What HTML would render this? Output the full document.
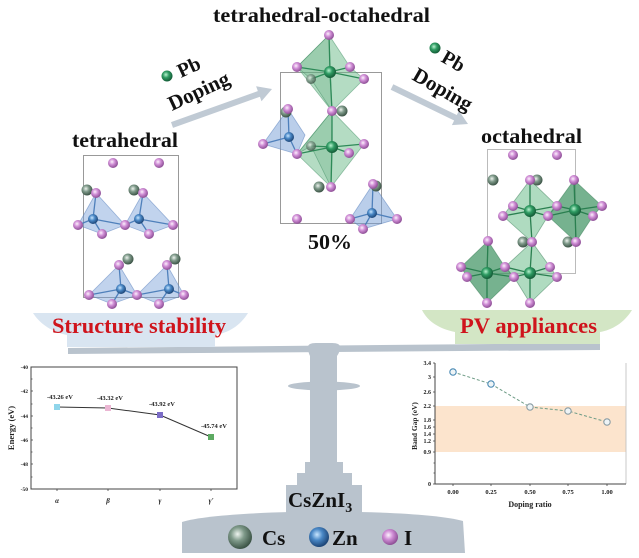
<!DOCTYPE html>
<html><head><meta charset="utf-8">
<style>html,body{margin:0;padding:0;background:#fff}svg{display:block}</style></head>
<body>
<svg width="639" height="558" viewBox="0 0 639 558" xmlns="http://www.w3.org/2000/svg" font-family="'Liberation Serif', serif">
<defs>
<radialGradient id="gI" cx="0.4" cy="0.38" r="0.62"><stop offset="0" stop-color="#fdf2fd"/><stop offset="0.45" stop-color="#d08ed6"/><stop offset="1" stop-color="#8e4f96"/></radialGradient>
<radialGradient id="gCs" cx="0.4" cy="0.38" r="0.62"><stop offset="0" stop-color="#eef4ef"/><stop offset="0.45" stop-color="#7f9a8a"/><stop offset="1" stop-color="#3c5446"/></radialGradient>
<radialGradient id="gZn" cx="0.4" cy="0.38" r="0.62"><stop offset="0" stop-color="#c8e6ff"/><stop offset="0.45" stop-color="#4a88c6"/><stop offset="1" stop-color="#1d4678"/></radialGradient>
<radialGradient id="gPb" cx="0.4" cy="0.38" r="0.62"><stop offset="0" stop-color="#b8f2cf"/><stop offset="0.45" stop-color="#2f9c63"/><stop offset="1" stop-color="#145c37"/></radialGradient>
</defs>
<rect width="639" height="558" fill="#fff"/>

<!-- Titles -->
<g font-weight="bold" fill="#111" font-size="21">
<text x="213" y="22" textLength="217" lengthAdjust="spacingAndGlyphs">tetrahedral-octahedral</text>
<text x="72" y="147" textLength="106" lengthAdjust="spacingAndGlyphs">tetrahedral</text>
<text x="481" y="143" textLength="101" lengthAdjust="spacingAndGlyphs">octahedral</text>
<text x="308" y="249" textLength="44" lengthAdjust="spacingAndGlyphs">50%</text>
</g>

<!-- Arrows -->
<g fill="#c0cad4" stroke="none">
<line x1="172" y1="125" x2="260" y2="93.5" stroke="#c0cad4" stroke-width="6"/>
<polygon points="272,89 261.5,101.3 256.1,86.3"/>
<line x1="392" y1="87" x2="456" y2="118" stroke="#c0cad4" stroke-width="6"/>
<polygon points="468,124 451.9,125.1 458.9,110.7"/>
</g>
<circle cx="167" cy="76" r="5.5" fill="url(#gPb)"/>
<circle cx="435" cy="48" r="5.5" fill="url(#gPb)"/>
<g font-weight="bold" fill="#111">
<text transform="translate(181,78) rotate(-25)" font-size="20">Pb</text>
<text transform="translate(172,111) rotate(-25)" font-size="21">Doping</text>
<text transform="translate(440,61) rotate(30)" font-size="20">Pb</text>
<text transform="translate(411,79) rotate(30)" font-size="21">Doping</text>
</g>

<!-- Left structure (tetrahedral) -->
<rect x="83.5" y="155.5" width="95" height="142" fill="none" stroke="#999" stroke-width="1"/>
<g fill="rgba(118,158,214,0.45)" stroke="rgba(90,130,190,0.55)" stroke-width="0.8">
<polygon points="96,193 78,225 102,234 125,225"/>
<polygon points="143,193 125,225 149,234 173,225"/>
<polygon points="119,265 89,295 112,304 137,295"/>
<polygon points="167,265 137,295 159,304 184,295"/>
</g>
<g stroke="#4f80bb" stroke-width="1.3">
<path d="M93,219 L96,193 M93,219 L78,225 M93,219 L102,234 M93,219 L125,225"/>
<path d="M139,219 L143,193 M139,219 L125,225 M139,219 L149,234 M139,219 L173,225"/>
<path d="M121,289 L119,265 M121,289 L89,295 M121,289 L112,304 M121,289 L137,295"/>
<path d="M169,289 L167,265 M169,289 L137,295 M169,289 L159,304 M169,289 L184,295"/>
</g>
<g>
<circle cx="87" cy="190" r="5.5" fill="url(#gCs)"/><circle cx="134" cy="190" r="5.5" fill="url(#gCs)"/>
<circle cx="128" cy="259" r="5.5" fill="url(#gCs)"/><circle cx="175" cy="259" r="5.5" fill="url(#gCs)"/>
<circle cx="93" cy="219" r="5" fill="url(#gZn)"/><circle cx="139" cy="219" r="5" fill="url(#gZn)"/>
<circle cx="121" cy="289" r="5" fill="url(#gZn)"/><circle cx="169" cy="289" r="5" fill="url(#gZn)"/>
</g>
<g fill="url(#gI)">
<circle cx="113" cy="163" r="5"/><circle cx="159" cy="163" r="5"/>
<circle cx="96" cy="193" r="5"/><circle cx="143" cy="193" r="5"/>
<circle cx="78" cy="225" r="5"/><circle cx="125" cy="225" r="5"/><circle cx="173" cy="225" r="5"/>
<circle cx="102" cy="234" r="5"/><circle cx="149" cy="234" r="5"/>
<circle cx="119" cy="265" r="5"/><circle cx="167" cy="265" r="5"/>
<circle cx="89" cy="295" r="5"/><circle cx="137" cy="295" r="5"/><circle cx="184" cy="295" r="5"/>
<circle cx="112" cy="304" r="5"/><circle cx="159" cy="304" r="5"/>
</g>

<!-- Center structure -->
<rect x="280.5" y="72.5" width="101" height="151" fill="none" stroke="#999" stroke-width="1"/>
<g stroke="rgba(60,140,95,0.5)" stroke-width="0.8">
<polygon points="329,35 297,67 332,111 364,79 350,67" fill="rgba(105,185,135,0.5)"/>
<polygon points="329,35 297,67 311,79 332,111" fill="rgba(80,160,110,0.25)"/>
<polygon points="332,111 297,154 331,187 364,144" fill="rgba(105,185,135,0.5)"/>
<polygon points="332,111 297,154 311,146 331,187" fill="rgba(80,160,110,0.25)"/>
</g>
<g fill="rgba(118,158,214,0.5)" stroke="rgba(90,130,190,0.55)" stroke-width="0.8">
<polygon points="288,109 263,144 297,154 305,135"/>
<polygon points="373,184 350,219 363,229 397,219"/>
</g>
<g stroke="#2e8a58" stroke-width="1.3">
<path d="M330,72 L329,35 M330,72 L297,67 M330,72 L350,67 M330,72 L364,79 M330,72 L332,111 M330,72 L311,79"/>
<path d="M332,147 L332,111 M332,147 L297,154 M332,147 L364,144 M332,147 L349,153 M332,147 L331,187 M332,147 L311,146"/>
</g>
<g stroke="#4f80bb" stroke-width="1.3">
<path d="M289,137 L288,109 M289,137 L263,144 M289,137 L297,154"/>
<path d="M372,213 L373,184 M372,213 L350,219 M372,213 L363,229 M372,213 L397,219"/>
</g>
<circle cx="311" cy="79" r="5" fill="url(#gCs)" opacity="0.8"/>
<circle cx="311" cy="146" r="5" fill="url(#gCs)" opacity="0.8"/>
<circle cx="342" cy="111" r="5.5" fill="url(#gCs)"/>
<circle cx="286" cy="112" r="5.5" fill="url(#gCs)"/>
<circle cx="319" cy="187" r="5.5" fill="url(#gCs)"/>
<circle cx="376" cy="186" r="5.5" fill="url(#gCs)"/>
<circle cx="330" cy="72" r="6" fill="url(#gPb)"/>
<circle cx="332" cy="147" r="6" fill="url(#gPb)"/>
<circle cx="289" cy="137" r="5" fill="url(#gZn)"/>
<circle cx="372" cy="213" r="5" fill="url(#gZn)"/>
<g fill="url(#gI)">
<circle cx="329" cy="35" r="5"/><circle cx="297" cy="67" r="5"/><circle cx="350" cy="67" r="5"/><circle cx="364" cy="79" r="5"/>
<circle cx="332" cy="111" r="5"/><circle cx="297" cy="154" r="5"/><circle cx="364" cy="144" r="5"/><circle cx="349" cy="153" r="5"/>
<circle cx="331" cy="187" r="5"/><circle cx="288" cy="109" r="5"/><circle cx="263" cy="144" r="5"/>
<circle cx="373" cy="184" r="5"/><circle cx="350" cy="219" r="5"/><circle cx="363" cy="229" r="5"/><circle cx="397" cy="219" r="5"/>
<circle cx="297" cy="219" r="5"/>
</g>

<!-- Right structure -->
<rect x="487.5" y="149.5" width="88" height="124" fill="none" stroke="#bbb" stroke-width="1"/>
<g stroke="rgba(50,120,80,0.5)" stroke-width="0.8">
<polygon points="530,180 503,216 532,242 548,216 557,206" fill="rgba(110,190,140,0.55)"/>
<polygon points="574,180 548,216 576,242 593,216 602,206" fill="rgba(60,145,95,0.7)"/>
<polygon points="488,241 461,267 467,277 487,303 514,277 505,267" fill="rgba(60,145,95,0.7)"/>
<polygon points="532,242 505,267 514,277 530,303 557,277 550,267" fill="rgba(110,190,140,0.55)"/>
</g>
<g stroke="#2a7f50" stroke-width="1.3">
<path d="M530,211 L530,180 M530,211 L513,206 M530,211 L503,216 M530,211 L548,216 M530,211 L557,206 M530,211 L532,242"/>
<path d="M575,210 L574,180 M575,210 L548,216 M575,210 L557,206 M575,210 L602,206 M575,210 L593,216 M575,210 L576,242"/>
<path d="M487,273 L488,241 M487,273 L461,267 M487,273 L467,277 M487,273 L505,267 M487,273 L514,277 M487,273 L487,303"/>
<path d="M530,273 L532,242 M530,273 L514,277 M530,273 L505,267 M530,273 L550,267 M530,273 L557,277 M530,273 L530,303"/>
</g>
<circle cx="493" cy="180" r="5.5" fill="url(#gCs)"/>
<circle cx="537" cy="180" r="5.5" fill="url(#gCs)"/>
<circle cx="523" cy="242" r="5.5" fill="url(#gCs)"/>
<circle cx="568" cy="242" r="5.5" fill="url(#gCs)"/>
<circle cx="530" cy="211" r="6" fill="url(#gPb)"/>
<circle cx="575" cy="210" r="6" fill="url(#gPb)"/>
<circle cx="487" cy="273" r="6" fill="url(#gPb)"/>
<circle cx="530" cy="273" r="6" fill="url(#gPb)"/>
<g fill="url(#gI)">
<circle cx="513" cy="155" r="5"/><circle cx="557" cy="155" r="5"/>
<circle cx="530" cy="180" r="5"/><circle cx="574" cy="180" r="5"/>
<circle cx="513" cy="206" r="5"/><circle cx="503" cy="216" r="5"/><circle cx="548" cy="216" r="5"/><circle cx="557" cy="206" r="5"/>
<circle cx="602" cy="206" r="5"/><circle cx="593" cy="216" r="5"/>
<circle cx="532" cy="242" r="5"/><circle cx="576" cy="242" r="5"/><circle cx="488" cy="241" r="5"/>
<circle cx="461" cy="267" r="5"/><circle cx="467" cy="277" r="5"/><circle cx="505" cy="267" r="5"/><circle cx="514" cy="277" r="5"/>
<circle cx="550" cy="267" r="5"/><circle cx="557" cy="277" r="5"/>
<circle cx="487" cy="303" r="5"/><circle cx="530" cy="303" r="5"/>
</g>

<!-- Balance -->
<g fill="#b9c3cd">
<polygon points="68,348 600,343 600,350 68,354"/>
<path d="M308,347 Q308,343 316,343 L332,343 Q340,343 340,347 Q340,352 337,356 L337,462 L343,462 L343,473 L352,473 L352,485 L362,485 L362,514 L286,514 L286,485 L297,485 L297,473 L305,473 L305,462 L310,462 L310,356 Q308,352 308,347 Z"/>
<ellipse cx="324" cy="386" rx="36" ry="4.5"/>
<path d="M182,553 L182,522 C200,516 250,513 290,512 L360,512 C405,513 445,516 463,521 L465,553 Z"/>
</g>
<!-- Pans -->
<path d="M33,313 L248,313 C240,326 228,333 215,335 L215,347 L67,347 L67,335 C52,332 40,324 33,313 Z" fill="#d9e5f1"/>
<path d="M422,310 L632,310 C624,323 612,330 600,332 L600,344 L455,344 L455,332 C440,329 428,322 422,310 Z" fill="#d3e6c5"/>
<g font-weight="bold" fill="#cf141c" font-size="22">
<text x="52" y="333" textLength="174" lengthAdjust="spacingAndGlyphs">Structure stability</text>
<text x="460" y="333" textLength="137" lengthAdjust="spacingAndGlyphs">PV appliances</text>
</g>

<!-- CsZnI3 and legend -->
<text x="288" y="507" font-weight="bold" font-size="21" fill="#111">CsZnI<tspan font-size="14" dy="5">3</tspan></text>
<circle cx="240" cy="537" r="12" fill="url(#gCs)"/>
<circle cx="319" cy="537" r="10" fill="url(#gZn)"/>
<circle cx="390" cy="537" r="8" fill="url(#gI)"/>
<g font-weight="bold" font-size="21" fill="#111">
<text x="262" y="545">Cs</text>
<text x="332" y="545">Zn</text>
<text x="404" y="545">I</text>
</g>

<!-- Left chart -->
<rect x="31" y="367" width="206" height="122" fill="#fff" stroke="#444" stroke-width="1"/>
<g stroke="#444" stroke-width="0.8">
<path d="M31,367 h2 M31,379 h1.5 M31,391 h2 M31,404 h1.5 M31,416 h2 M31,428 h1.5 M31,440 h2 M31,452 h1.5 M31,464 h2 M31,477 h1.5 M31,489 h2"/>
<path d="M57,489 v2 M108,489 v2 M160,489 v2 M211,489 v2"/>
</g>
<g font-weight="bold" font-size="5.5" fill="#222" text-anchor="end">
<text x="28" y="369">-40</text><text x="28" y="393">-42</text><text x="28" y="418">-44</text>
<text x="28" y="442">-46</text><text x="28" y="466">-48</text><text x="28" y="491">-50</text>
</g>
<text transform="translate(14,428) rotate(-90)" text-anchor="middle" font-weight="bold" font-size="8.5" fill="#222">Energy (eV)</text>
<g font-style="italic" font-weight="bold" font-size="7" fill="#222" text-anchor="middle">
<text x="57" y="503">α</text><text x="108" y="503">β</text><text x="160" y="503">γ</text><text x="211" y="503">γ'</text>
</g>
<polyline points="57,407 108,408 160,415 211,437" fill="none" stroke="#333" stroke-width="1"/>
<rect x="54" y="404" width="6" height="6" fill="#8fd5ea"/>
<rect x="105" y="405" width="6" height="6" fill="#ebb6d3"/>
<rect x="157" y="412" width="6" height="6" fill="#7b6cc6"/>
<rect x="208" y="434" width="6" height="6" fill="#5daa62"/>
<g font-weight="bold" font-size="6.5" fill="#222" text-anchor="middle">
<text x="60" y="399">-43.26 eV</text><text x="110" y="400">-43.32 eV</text>
<text x="162" y="406">-43.92 eV</text><text x="214" y="428">-45.74 eV</text>
</g>

<!-- Right chart -->
<rect x="435" y="406" width="191" height="46" fill="#fce4cd"/>
<line x1="626" y1="363" x2="626" y2="484" stroke="#bbb" stroke-width="0.8"/>
<path d="M435,363 V484 H626" fill="none" stroke="#444" stroke-width="1"/>
<g stroke="#444" stroke-width="0.8">
<path d="M435,363 h-2 M435,377 h-2 M435,392 h-2 M435,406 h-2 M435,420 h-2 M435,427 h-2 M435,434 h-2 M435,441 h-2 M435,452 h-2 M435,484 h-2 M435,463 h-1.5 M435,473 h-1.5"/>
<path d="M453,484 v2 M491,484 v2 M530,484 v2 M568,484 v2 M607,484 v2"/>
</g>
<g font-weight="bold" font-size="6" fill="#222" text-anchor="end">
<text x="431" y="365">3.4</text><text x="431" y="379">3</text><text x="431" y="394">2.6</text>
<text x="431" y="408">2.2</text><text x="431" y="422">1.8</text><text x="431" y="429">1.6</text>
<text x="431" y="436">1.4</text><text x="431" y="443">1.2</text><text x="431" y="454">0.9</text>
<text x="431" y="486">0</text>
</g>
<g font-weight="bold" font-size="6.5" fill="#222" text-anchor="middle">
<text x="453" y="494">0.00</text><text x="491" y="494">0.25</text><text x="530" y="494">0.50</text>
<text x="568" y="494">0.75</text><text x="607" y="494">1.00</text>
</g>
<text x="530" y="507" text-anchor="middle" font-weight="bold" font-size="8" fill="#222">Doping ratio</text>
<text transform="translate(417,426) rotate(-90)" text-anchor="middle" font-weight="bold" font-size="7.4" fill="#222">Band Gap (eV)</text>
<polyline points="453,372 491,384 530,407 568,411 607,422" fill="none" stroke="#6e9c86" stroke-width="1" stroke-dasharray="3,2"/>
<g fill="#eef4f6" stroke-width="1.1">
<circle cx="453" cy="372" r="3.2" stroke="#4a8ab4"/>
<circle cx="491" cy="384" r="3.2" stroke="#4a8ab4"/>
<circle cx="530" cy="407" r="3.2" stroke="#8a9ca4"/>
<circle cx="568" cy="411" r="3.2" stroke="#8a9ca4"/>
<circle cx="607" cy="422" r="3.2" stroke="#8a9ca4"/>
</g>
</svg>
</body></html>
